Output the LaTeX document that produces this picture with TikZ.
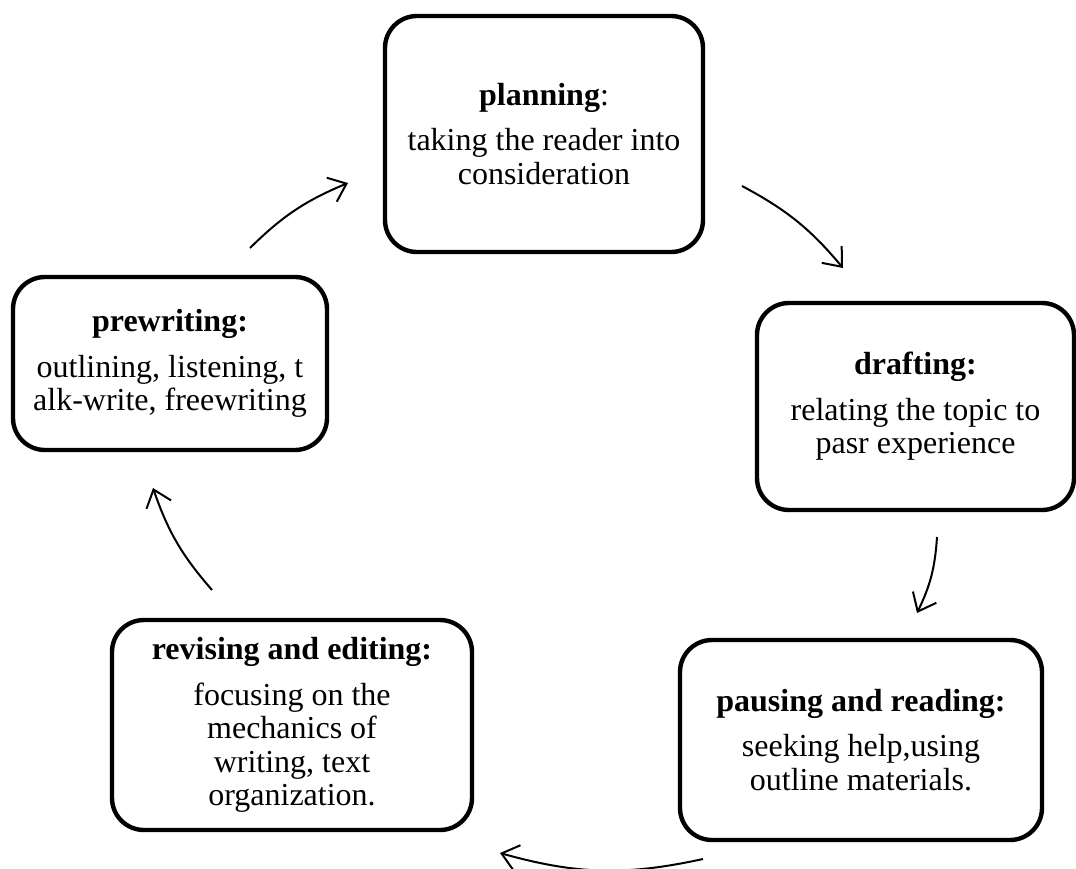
\documentclass[tikz,border=0pt]{standalone}
\usepackage{fontspec}
\setmainfont{Liberation Serif}
\usetikzlibrary{arrows.meta}

\begin{document}
\begin{tikzpicture}[x=0.5pt, y=0.5pt,
	stage/.style={draw, line width=2.2pt, rounded corners=16pt, align=center, inner sep=0pt,
		font=\fontsize{16}{16.8}\selectfont},
	cycle/.style={line width=1pt, -{Straight Barb[length=8pt,width=13pt]}, bend left=11}]
	% Page size
	\useasboundingbox (0,0) rectangle (1076,-868);

	% Draw the stages
	%Top
	\node[stage, minimum width=159pt, minimum height=118pt] (plan) at (544,-134)
		{\textbf{planning}:\\[6pt] taking the reader into\\ consideration};
	%Right
	\node[stage, minimum width=158.5pt, minimum height=103.5pt] (draft) at (915.5,-406.5)
		{\textbf{drafting:}\\[6pt] relating the topic to\\ pasr experience};
	%Bottom right
	\node[stage, minimum width=181pt, minimum height=100pt] (pause) at (861,-740)
		{\textbf{pausing and reading:}\\[6pt] seeking help,using\\ outline materials.};
	%Bottom left
	\node[stage, minimum width=180pt, minimum height=105pt] (revise) at (292,-725)
		{\textbf{revising and editing:}\\[6pt] focusing on the\\ mechanics of\\ writing, text\\ organization.};
	%Left
	\node[stage, minimum width=157pt, minimum height=86.5pt] (prewrite) at (170,-363.5)
		{\textbf{prewriting:}\\[6pt] outlining, listening, t\\ alk-write, freewriting};

	% Arrow ends
	\coordinate (plan out) at (742,-186);
	\coordinate (draft in) at (843,-268);
	\coordinate (draft out) at (937,-537);
	\coordinate (pause in) at (917,-613);
	\coordinate (pause out) at (703,-859);
	\coordinate (revise in) at (500,-853);
	\coordinate (revise out) at (212,-590);
	\coordinate (prewrite in) at (153,-488);
	\coordinate (prewrite out) at (250,-248);
	\coordinate (plan in) at (348,-183);

	% Draw the cycle
	\draw[cycle] (plan out) to (draft in);
	\draw[cycle] (draft out) to (pause in);
	\draw[cycle, bend left=14] (pause out) to (revise in);
	\draw[cycle] (revise out) to (prewrite in);
	\draw[cycle] (prewrite out) to (plan in);

\end{tikzpicture}
\end{document}
